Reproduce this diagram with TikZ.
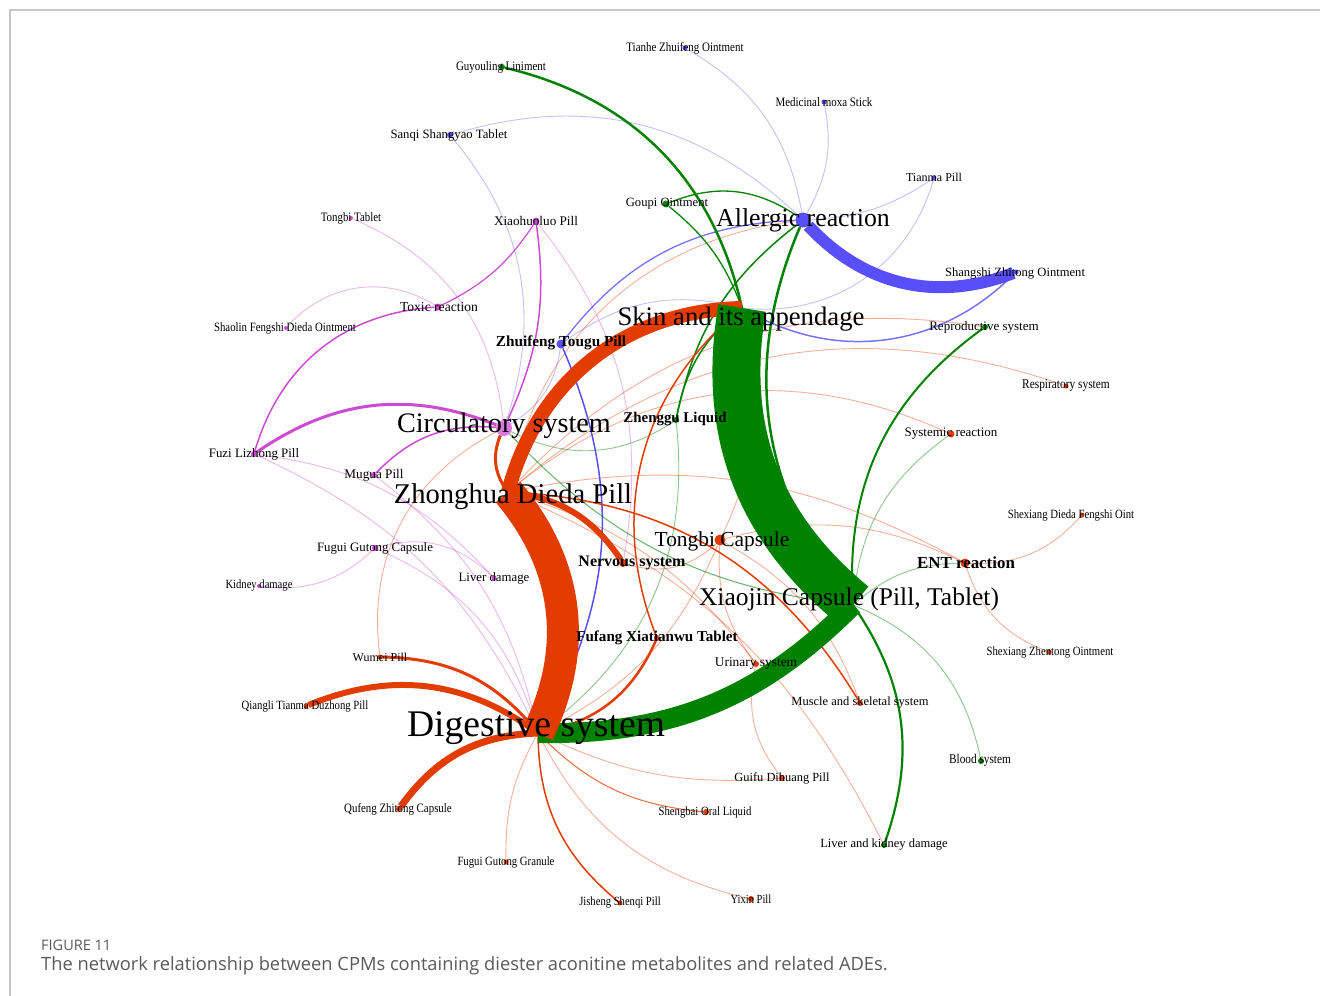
\documentclass[tikz,border=0pt]{standalone}
\usepackage{fontspec}
\setmainfont{Liberation Serif}
\newfontfamily\capfont{Open Sans}
\newfontfamily\condfont[FakeStretch=0.85]{Liberation Serif}
\definecolor{cred}{RGB}{226,60,0}
\definecolor{cgreen}{RGB}{0,130,0}
\definecolor{cblue}{RGB}{88,78,250}
\definecolor{cmag}{RGB}{205,75,210}
\definecolor{cframe}{RGB}{200,200,200}
\definecolor{ccap}{RGB}{90,90,90}
\newcommand{\setfs}[1]{\fontsize{#1}{#1}\selectfont}
\pgfdeclarelayer{bgl}
\pgfdeclarelayer{edges}
\pgfsetlayers{bgl,edges,main}
\begin{document}
\begin{tikzpicture}[x=1pt,y=-1pt,
  lbl/.style={inner sep=0pt, anchor=center, font=\setfs{#1}, text=black},
  lblc/.style={inner sep=0pt, anchor=center, font=\condfont\setfs{#1}, text=black},
  lblb/.style={inner sep=0pt, anchor=center, font=\setfs{#1}\bfseries, text=black},
  dot/.style={circle, fill=#1, draw=none, inner sep=0pt, minimum size=6pt},
  lr/.style={draw=cred, line width=0.9pt, opacity=0.4},
  lg/.style={draw=cgreen, line width=0.9pt, opacity=0.45},
  lb/.style={draw=cblue, line width=0.9pt, opacity=0.35},
  lm/.style={draw=cmag, line width=0.9pt, opacity=0.4},
  er/.style={draw=cred, line width=#1},
  eg/.style={draw=cgreen, line width=#1},
  eb/.style={draw=cblue, line width=#1},
  em/.style={draw=cmag, line width=#1},
  capt/.style={inner sep=0pt, anchor=base west, text=ccap}
]
\begin{pgfonlayer}{bgl}
\fill[white] (0,0) rectangle (1320,996);
\end{pgfonlayer}
\useasboundingbox (0,0) rectangle (1320,996);
\draw[cframe, line width=2pt] (10,996) -- (10,10) -- (1320,10);

% ---------- node dots ----------
\node[dot=cblue, minimum size=5pt] (tianhe) at (685,48) {};
\node[dot=cgreen, minimum size=6pt] (guyou) at (502,67) {};
\node[dot=cblue, minimum size=5pt] (moxa) at (824,102) {};
\node[dot=cblue, minimum size=6pt] (sanqi) at (450,135) {};
\node[dot=cblue, minimum size=5pt] (tianma) at (934,178) {};
\node[dot=cgreen, minimum size=7pt] (goupi) at (666,204) {};
\node[dot=cblue, minimum size=15pt] (allergic) at (803,220) {};
\node[dot=cmag, minimum size=4pt] (tongbitab) at (351,218) {};
\node[dot=cmag, minimum size=7pt] (xhl) at (536,221) {};
\node[dot=cblue, minimum size=5pt] (shangshi) at (1016,272) {};
\node[dot=cmag, minimum size=7pt] (toxic) at (438,307) {};
\node[dot=cmag, minimum size=4pt] (shaolin) at (286,328) {};
\coordinate (skin) at (742,308);
\node[dot=cgreen, minimum size=6pt] (repro) at (985,327) {};
\node[dot=cblue, minimum size=9pt] (zhuifeng) at (561,344) {};
\node[dot=cred, minimum size=5pt] (resp) at (1066,386) {};
\node[dot=cmag!75, minimum size=16pt] (circ) at (504,428) {};
\node[dot=cgreen, minimum size=6pt] (zhenggu) at (676,420) {};
\node[dot=cred, minimum size=7pt] (systemic) at (951,434) {};
\node[dot=cmag, minimum size=6pt] (fuzi) at (254,454) {};
\node[dot=cmag, minimum size=6pt] (mugua) at (374,475) {};
\coordinate (zhonghua) at (508,492);
\node[dot=cred, minimum size=5pt] (shexdieda) at (1082,515) {};
\node[dot=cred, minimum size=11pt] (tongbi) at (720,540) {};
\node[dot=cmag, minimum size=6pt] (fuguicap) at (375,548) {};
\node[dot=cred, minimum size=8pt] (nervous) at (623,563) {};
\node[dot=cred, minimum size=9pt] (ent) at (965,563) {};
\node[dot=cmag, minimum size=5pt] (liverd) at (494,578) {};
\node[dot=cmag, minimum size=4pt] (kidney) at (259,586) {};
\coordinate (xiaojin) at (853,605);
\node[dot=cred, minimum size=6pt] (fufang) at (657,638) {};
\node[dot=cred, minimum size=5pt] (shexzhen) at (1049,652) {};
\node[dot=cred, minimum size=6pt] (urinary) at (756,664) {};
\node[dot=cred, minimum size=5pt] (wumei) at (380,657) {};
\node[dot=cred, minimum size=5pt] (qiangli) at (306,706) {};
\node[dot=cred, minimum size=6pt] (muscle) at (860,703) {};
\coordinate (dig) at (538,733);
\node[dot=cgreen, minimum size=6pt] (blood) at (981,761) {};
\node[dot=cred, minimum size=6pt] (guifu) at (782,778) {};
\node[dot=cred, minimum size=6pt] (qufeng) at (399,809) {};
\node[dot=cred, minimum size=6pt] (shengbai) at (706,812) {};
\node[dot=cgreen, minimum size=6pt] (lkd) at (884,845) {};
\node[dot=cred, minimum size=5pt] (granule) at (506,862) {};
\node[dot=cred, minimum size=5pt] (jisheng) at (620,903) {};
\node[dot=cred, minimum size=6pt] (yixin) at (751,899) {};

% ---------- edges ----------
\begin{pgfonlayer}{edges}
% light edges
\draw[lb] (tianhe) to[bend left=25] (allergic);
\draw[lb] (moxa) to[bend left=20] (allergic);
\draw[lb] (sanqi) to[bend left=30] (allergic);
\draw[lb] (sanqi) to[bend left=29] (circ);
\draw[lb] (tianma) to[bend left=15] (allergic);
\draw[lb] (tianma) to[bend left=40] (skin);
\draw[lb] (zhuifeng) to[bend left=25] (skin);
\draw[lb] (zhuifeng) to[bend left=25] (circ);
\draw[lg] (zhenggu) to[bend left=30] (circ);
\draw[lg] (zhenggu) to[bend left=30] (dig);
\draw[lg] (xiaojin) to[bend left=25] (systemic);
\draw[lg] (xiaojin) to[bend left=20] (ent);
\draw[lg] (xiaojin) to[bend left=28] (blood);
\draw[lr] (dig) to[bend right=25] (yixin);
\draw[lr] (dig) to[bend right=15] (guifu);
\draw[lr] (dig) to[bend right=15] (granule);
\draw[lr] (zhonghua) to[bend left=36] (allergic);
\draw[lr] (zhonghua) to[bend left=32] (systemic);
\draw[lr] (zhonghua) to[bend left=30] (resp);
\draw[lr] (zhonghua) to[bend left=28] (repro);
\draw[lr] (zhonghua) to[bend left=20] (ent);
\draw[lr] (zhonghua) to[bend left=18] (urinary);
\draw[lr] (zhonghua) to[bend left=20] (lkd);
\draw[lr] (tongbi) to[bend left=30] (nervous);
\draw[lr] (tongbi) to[bend right=20] (urinary);
\draw[lr] (tongbi) to[bend left=20] (muscle);
\draw[lr] (tongbi) to[bend left=20] (ent);
\draw[lr] (tongbi) to[bend left=20] (dig);
\draw[lr] (tongbi) to[bend right=20] (skin);
\draw[lr] (guifu) to[bend left=25] (urinary);
\draw[lr] (shexdieda) to[bend left=25] (ent);
\draw[lr] (ent) to[bend right=25] (shexzhen);
\draw[lr] (wumei) to[bend left=35] (circ);
\draw[lm] (shaolin) to[bend left=40] (toxic);
\draw[lm] (xhl) to[bend left=24] (nervous);
\draw[lm] (tongbitab) to[bend left=30] (circ);
\draw[lm] (fuzi) to[bend left=20] (liverd);
\draw[lm] (fuguicap) to[bend left=30] (liverd);
\draw[lm] (fuguicap) to[bend left=25] (kidney);
\draw[lm] (fuguicap) to[bend left=25] (dig);
\draw[lm] (mugua) to[bend left=20] (dig);
\draw[lm] (fuzi) to[bend left=20] (dig);
% medium edges
\draw[eb=1.5pt, opacity=0.8] (shangshi) to[bend left=38] (skin);
\draw[eb=1.3pt, opacity=0.8] (zhuifeng) to[bend left=25] (allergic);
\draw[eb=1.5pt] (zhuifeng) to[bend left=27] (dig);
\draw[eg=2.5pt] (allergic) to[bend right=31] (xiaojin);
\draw[eg=2.5pt] (guyou) to[bend left=32] (skin);
\draw[eg=1.3pt] (goupi) to[bend left=28] (allergic);
\draw[eg=1.3pt] (goupi) to[bend left=15] (skin);
\draw[eg=1.5pt] (zhenggu) to[bend left=20] (allergic);
\draw[eg=1.5pt] (zhenggu) to[bend left=20] (skin);
\draw[eg=1pt, opacity=0.6] (circ) to[bend right=20] (xiaojin);
\draw[eg=2pt] (xiaojin) to[bend left=29] (repro);
\draw[eg=2.2pt] (xiaojin) to[bend left=27] (lkd);
\draw[er=3pt] (circ) to[bend right=30] (zhonghua);
\draw[er=3pt] (wumei) to[bend left=25] (dig);
\draw[er=1.5pt] (fufang) to[bend left=36] (skin);
\draw[er=2.5pt] (fufang) to[bend left=28] (dig);
\draw[er=1.5pt] (dig) to[bend right=25] (jisheng);
\draw[er=1pt, opacity=0.75] (dig) to[bend right=20] (shengbai);
\draw[er=1.5pt] (zhonghua) to[bend left=28] (muscle);
\draw[em=3pt] (fuzi) to[bend left=28] (circ);
\draw[em=1.5pt] (fuzi) to[bend left=35] (toxic);
\draw[em=1.2pt] (xhl) to[bend left=15] (toxic);
\draw[em=1.5pt] (xhl) to[bend left=16] (circ);
\draw[em=1.5pt] (mugua) to[bend left=25] (circ);
% thick edges
\draw[er=6pt] (qiangli) to[bend left=29] (dig);
\draw[er=7pt] (qufeng) to[bend left=26] (dig);
\draw[er=6pt] (zhonghua) to[bend left=25] (nervous);
\draw[eb=12pt] (allergic) to[bend right=34] (shangshi);
\draw[er=14pt] (zhonghua) to[bend left=37] (skin);
\draw[eg=20pt] (xiaojin) to[bend left=23] (dig);
\draw[er=32pt] (zhonghua) to[bend left=33] (dig);
\draw[eg=48pt] (skin) to[bend right=30] (xiaojin);
\end{pgfonlayer}

% ---------- labels ----------
\node[lblc=12.9] (tianhe-t) at (685,48) {Tianhe Zhuifeng Ointment};
\node[lblc=12.9] (guyou-t) at (501,67) {Guyouling Liniment};
\node[lblc=12.9] (moxa-t) at (824,102) {Medicinal moxa Stick};
\node[lbl=12.7] (sanqi-t) at (449,135) {Sanqi Shangyao Tablet};
\node[lbl=12] (tianma-t) at (934,177) {Tianma Pill};
\node[lbl=12.6] (goupi-t) at (667,204) {Goupi Ointment};
\node[lbl=25.8] (allergic-t) at (803,220) {Allergic reaction};
\node[lblc=12.8] (tongbitab-t) at (351,218) {Tongbi Tablet};
\node[lbl=13.2] (xhl-t) at (536,221) {Xiaohuoluo Pill};
\node[lbl=12.6] (shangshi-t) at (1015,273) {Shangshi Zhitong Ointment};
\node[lbl=13.6] (toxic-t) at (439,307) {Toxic reaction};
\node[lblc=12.7] (shaolin-t) at (285,328) {Shaolin Fengshi Dieda Ointment};
\node[lbl=26.7] (skin-t) at (741,319) {Skin and its appendage};
\node[lbl=13] (repro-t) at (984,327) {Reproductive system};
\node[lblb=15.3] (zhuifeng-t) at (561,343) {Zhuifeng Tougu Pill};
\node[lblc=13.4] (resp-t) at (1066,386) {Respiratory system};
\node[lbl=28.2] (circ-t) at (504,426) {Circulatory system};
\node[lblb=14.9] (zhenggu-t) at (675,419) {Zhenggu Liquid};
\node[lbl=13] (systemic-t) at (951,434) {Systemic reaction};
\node[lbl=12.9] (fuzi-t) at (254,454) {Fuzi Lizhong Pill};
\node[lbl=13.2] (mugua-t) at (374,475) {Mugua Pill};
\node[lbl=28.6] (zhonghua-t) at (513,497) {Zhonghua Dieda Pill};
\node[lblc=12.6] (shexdieda-t) at (1071,515) {Shexiang Dieda Fengshi Oint};
\node[lbl=21.4] (tongbi-t) at (722,541) {Tongbi Capsule};
\node[lbl=12.8] (fuguicap-t) at (375,548) {Fugui Gutong Capsule};
\node[lblb=16] (nervous-t) at (632,563) {Nervous system};
\node[lblb=16.9] (ent-t) at (966,563) {ENT reaction};
\node[lbl=12.8] (liverd-t) at (494,578) {Liver damage};
\node[lblc=12.5] (kidney-t) at (259,586) {Kidney damage};
\node[lbl=25.5] (xiaojin-t) at (849,599) {Xiaojin Capsule (Pill, Tablet)};
\node[lblb=15.1] (fufang-t) at (657,638) {Fufang Xiatianwu Tablet};
\node[lblc=12.6] (shexzhen-t) at (1050,652) {Shexiang Zhentong Ointment};
\node[lbl=13.4] (urinary-t) at (756,664) {Urinary system};
\node[lbl=12] (wumei-t) at (380,657) {Wumei Pill};
\node[lblc=12.6] (qiangli-t) at (305,706) {Qiangli Tianma Duzhong Pill};
\node[lbl=12.5] (muscle-t) at (860,703) {Muscle and skeletal system};
\node[lbl=37.6] (dig-t) at (536,728) {Digestive system};
\node[lblc=13.3] (blood-t) at (980,760) {Blood system};
\node[lbl=12.4] (guifu-t) at (782,778) {Guifu Dihuang Pill};
\node[lblc=12.8] (qufeng-t) at (398,809) {Qufeng Zhitong Capsule};
\node[lblc=12.6] (shengbai-t) at (705,812) {Shengbai Oral Liquid};
\node[lbl=12.5] (lkd-t) at (884,845) {Liver and kidney damage};
\node[lblc=12.6] (granule-t) at (506,862) {Fugui Gutong Granule};
\node[lblc=12.5] (jisheng-t) at (620,903) {Jisheng Shenqi Pill};
\node[lblc=12.4] (yixin-t) at (751,899) {Yixin Pill};

% ---------- caption ----------
\node[capt, font=\capfont\setfs{14.5}] (figno) at (41,950) {FIGURE 11};
\node[capt, font=\capfont\setfs{18.3}] (figcap) at (41,970) {The network relationship between CPMs containing diester aconitine metabolites and related ADEs.};
\end{tikzpicture}
\end{document}
